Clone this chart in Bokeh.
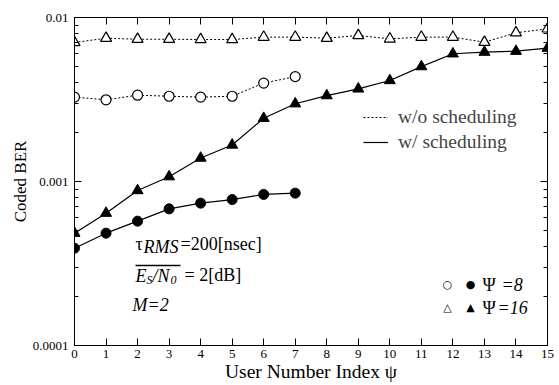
from bokeh.plotting import figure
from bokeh.models import (LogAxis, LinearAxis, FixedTicker, Label, Range1d,
                          Legend, LegendItem, BoxAnnotation, CustomJSTickFormatter)
from bokeh.embed import file_html
from bokeh.resources import INLINE

# ---------------- data ----------------
psi8_index = [0, 1, 2, 3, 4, 5, 6, 7]
ber_wo_psi8 = [0.00327, 0.00315, 0.00336, 0.00331, 0.00327, 0.00331, 0.00398, 0.00436]
ber_w_psi8 = [0.000392, 0.000484, 0.000573, 0.000681, 0.000738, 0.000776, 0.000834, 0.000849]

psi16_index = list(range(16))
ber_wo_psi16 = [0.00704, 0.00748, 0.00737, 0.00737, 0.00734, 0.00734, 0.00759, 0.00759,
                0.00748, 0.00777, 0.00741, 0.00759, 0.00759, 0.00707, 0.00807, 0.00853]
ber_w_psi16 = [0.000484, 0.000641, 0.000881, 0.00107, 0.00139, 0.00167, 0.00243, 0.00298,
               0.00334, 0.00367, 0.00413, 0.00502, 0.00601, 0.00615, 0.00623, 0.0065]

x_ticks = list(range(16))
y_ticks = [0.0001, 0.001, 0.01]
y_minor = [m * d for d in (0.0001, 0.001) for m in range(2, 10)]

SERIF = "Liberation Serif"

# helpers: reference-picture pixel -> data coordinates (for annotation placement)
def dx(px):
    return (px - 74) / 473 * 15
def dy(py):
    return 10 ** (-2 - 2 * (py - 17) / 328)

p = figure(width=559, height=385, x_range=Range1d(0, 15), y_range=Range1d(1e-4, 1e-2),
           y_axis_type="log", output_backend="svg", toolbar_location=None,
           min_border_left=74, min_border_right=12, min_border_top=17, min_border_bottom=40)
p.xgrid.visible = False
p.ygrid.visible = False
p.outline_line_color = "black"
p.outline_line_width = 1
p.background_fill_color = "white"
p.border_fill_color = "white"

fmt = CustomJSTickFormatter(code="return tick.toString();")
blank = CustomJSTickFormatter(code="return '';")

def style_axis(ax, labels=True):
    ax.major_tick_in = 7
    ax.major_tick_out = 0
    ax.minor_tick_in = 4
    ax.minor_tick_out = 0
    ax.axis_line_color = "black"
    ax.major_tick_line_color = "black"
    ax.minor_tick_line_color = "black"
    ax.major_label_text_font = SERIF
    ax.major_label_text_font_size = "13px"
    ax.major_label_text_color = "black"
    ax.axis_label_text_color = "black"
    if not labels:
        ax.major_label_text_font_size = "0px"
        ax.major_label_standoff = 0

# bottom x axis
xa = p.xaxis[0]
xa.ticker = FixedTicker(ticks=x_ticks, minor_ticks=[])
style_axis(xa)
xa.major_label_standoff = 4
xa.axis_label = "User Number Index ψ"
xa.axis_label_text_font = SERIF
xa.axis_label_text_font_size = "19.5px"
xa.axis_label_text_font_style = "normal"
xa.axis_label_standoff = 0

# left y axis
ya = p.yaxis[0]
ya.ticker = FixedTicker(ticks=y_ticks, minor_ticks=y_minor)
ya.formatter = fmt
style_axis(ya)
ya.major_label_standoff = 6
ya.axis_label = "Coded BER"
ya.axis_label_text_font = SERIF
ya.axis_label_text_font_size = "17px"
ya.axis_label_text_font_style = "normal"
ya.axis_label_standoff = 0

# mirrored axes
top = LinearAxis(ticker=FixedTicker(ticks=x_ticks, minor_ticks=[]), formatter=blank)
style_axis(top, labels=False)
p.add_layout(top, "above")
right = LogAxis(ticker=FixedTicker(ticks=y_ticks, minor_ticks=y_minor), formatter=blank)
style_axis(right, labels=False)
p.add_layout(right, "right")

# ---------------- series ----------------
l_wo16 = p.line(psi16_index, ber_wo_psi16, line_color="black", line_width=1, line_dash="2 2")
p.scatter(psi16_index, ber_wo_psi16, marker="triangle", size=11, fill_color="white",
          line_color="black", line_width=1.2)
p.line(psi8_index, ber_wo_psi8, line_color="black", line_width=1, line_dash="2 2")
p.scatter(psi8_index, ber_wo_psi8, marker="circle", size=10, fill_color="white",
          line_color="black", line_width=1.2)
l_w16 = p.line(psi16_index, ber_w_psi16, line_color="black", line_width=1.2)
p.scatter(psi16_index, ber_w_psi16, marker="triangle", size=11, fill_color="black",
          line_color="black")
p.line(psi8_index, ber_w_psi8, line_color="black", line_width=1.2)
p.scatter(psi8_index, ber_w_psi8, marker="circle", size=10, fill_color="black",
          line_color="black")

# line-style legend
leg = Legend(items=[LegendItem(label="w/o scheduling", renderers=[l_wo16]),
                    LegendItem(label="w/ scheduling", renderers=[l_w16])],
             location=(289, 192), border_line_color=None, background_fill_alpha=0,
             padding=0, margin=0, spacing=3, glyph_width=25, glyph_height=20,
             label_height=20, label_standoff=10,
             label_text_font=SERIF, label_text_font_size="19.5px")
p.add_layout(leg, "center")

# ---------------- annotations ----------------
def lab(px, py, text, size="18px", style="normal", font=SERIF, align="left"):
    p.add_layout(Label(x=dx(px), y=dy(py), text=text, text_font=font, text_font_size=size,
                       text_font_style=style, text_baseline="middle", text_align=align,
                       text_color="black"))

lab(135, 243, "τ")
lab(143, 246, "RMS", style="italic")
lab(180, 243, "=200[nsec]")

lab(135, 275, "E", style="italic")
lab(146, 279, "S", size="12px", style="italic")
lab(152, 275, "/N", style="italic")
lab(170, 279, "0", size="12px", style="italic")
lab(184, 274, "= 2[dB]")
p.add_layout(BoxAnnotation(left=dx(135), right=dx(180), top=dy(264.3), bottom=dy(265.7),
                           fill_color="black", fill_alpha=1, line_color=None))

lab(132, 304, "M=2", style="italic")

lab(447, 284, "○", size="11px", font="DejaVu Sans", align="center")
lab(470, 284, "●", size="11px", font="DejaVu Sans", align="center")
lab(482, 284, "Ψ")
lab(501, 284, "=8", style="italic")
lab(447, 307, "△", size="11px", font="DejaVu Sans", align="center")
lab(470, 307, "▲", size="11px", font="DejaVu Sans", align="center")
lab(482, 307, "Ψ")
lab(497, 307, "=16", style="italic")

open("out.html", "w").write(file_html(p, INLINE))
